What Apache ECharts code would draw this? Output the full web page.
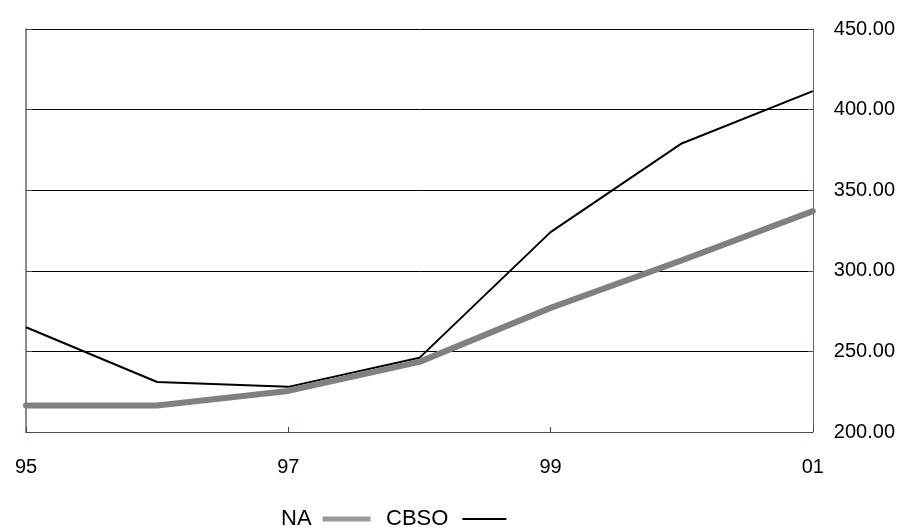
<!DOCTYPE html>
<html>
<head>
<meta charset="utf-8">
<script src="https://cdn.jsdelivr.net/npm/echarts@6/dist/echarts.min.js"></script>
<style>
  html, body { margin: 0; padding: 0; background: #fff; }
  #chart { width: 898px; height: 527px; }
</style>
</head>
<body>
<div id="chart"></div>
<script>
// Years along the x axis (two-digit form)
const years = ['95', '96', '97', '98', '99', '00', '01'];
// Series values
const naValues = [216.5, 216.5, 225.5, 243.5, 277, 306.5, 337];
const cbsoValues = [265, 231, 228, 246, 324, 379, 411.5];
// Value axis range
const yMin = 200, yMax = 450, yStep = 50;

const FONT = 'Liberation Sans, Arial, sans-serif';
const chart = echarts.init(document.getElementById('chart'));

chart.setOption({
  animation: false,
  backgroundColor: '#ffffff',
  grid: { left: 26, right: 84, top: 29, bottom: 95, containLabel: false },
  legend: [
    {
      data: [{ name: 'NA', icon: 'rect' }],
      left: 276, top: 503, align: 'right', orient: 'horizontal',
      itemWidth: 48, itemHeight: 5, selectedMode: false,
      textStyle: { fontFamily: FONT, fontSize: 22, color: '#000', padding: [0, 6, 0, 0] }
    },
    {
      data: [{ name: 'CBSO', icon: 'rect' }],
      left: 381, top: 503, align: 'right', orient: 'horizontal',
      itemWidth: 44, itemHeight: 2, selectedMode: false,
      textStyle: { fontFamily: FONT, fontSize: 22, color: '#000', padding: [0, 9, 0, 0] }
    }
  ],
  xAxis: {
    type: 'category',
    data: years,
    boundaryGap: false,
    axisLine: { show: true, lineStyle: { color: '#555555', width: 1 } },
    axisTick: { show: true, inside: true, length: 5, interval: 1, lineStyle: { color: '#3a3aa0' } },
    axisLabel: { interval: 1, margin: 25, fontFamily: FONT, fontSize: 20, color: '#000' },
    splitLine: { show: false }
  },
  yAxis: [
    {
      type: 'value',
      position: 'right',
      min: yMin, max: yMax, interval: yStep,
      axisLine: { show: true, lineStyle: { color: '#666666', width: 1 } },
      axisTick: { show: true, inside: true, length: 5, lineStyle: { color: '#3a3aa0' } },
      axisLabel: {
        margin: 21, fontFamily: FONT, fontSize: 20, color: '#000',
        formatter: v => v.toFixed(2)
      },
      splitLine: { show: true, lineStyle: { color: '#000000', width: 1 } }
    },
    {
      type: 'value',
      position: 'left',
      min: yMin, max: yMax, interval: yStep,
      axisLine: { show: true, lineStyle: { color: '#666666', width: 1.5 } },
      axisTick: { show: true, inside: true, length: 6, lineStyle: { color: '#3a3aa0' } },
      axisLabel: { show: false },
      splitLine: { show: false }
    }
  ],
  series: [
    {
      name: 'NA',
      type: 'line',
      data: naValues,
      showSymbol: false,
      symbol: 'none',
      color: '#808080',
      lineStyle: { color: '#808080', width: 6, cap: 'round', join: 'round' },
      itemStyle: { color: '#9a9a9a' },
      z: 2
    },
    {
      name: 'CBSO',
      type: 'line',
      data: cbsoValues,
      showSymbol: false,
      symbol: 'none',
      color: '#000000',
      lineStyle: { color: '#000000', width: 2 },
      itemStyle: { color: '#000000' },
      z: 1
    }
  ]
});
</script>
</body>
</html>
